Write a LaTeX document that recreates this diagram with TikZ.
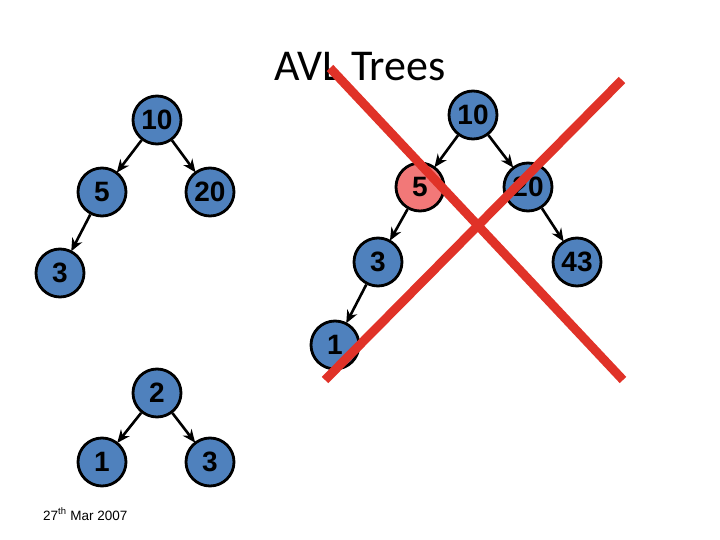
\documentclass[tikz,border=0pt]{standalone}
\usepackage{fontspec}
\setmainfont{Liberation Sans}
\newfontfamily\titlefont{Carlito}
\usetikzlibrary{arrows.meta}
\definecolor{nodeblue}{RGB}{79,129,189}
\definecolor{nodered}{RGB}{242,120,120}
\definecolor{crossred}{RGB}{224,50,40}
\tikzset{
  tnode/.style={circle, draw=black, line width=2.8pt, fill=nodeblue, minimum size=48pt, inner sep=0pt, font=\fontsize{28}{28}\selectfont\bfseries},
  rnode/.style={tnode, fill=nodered},
  edge/.style={-{Stealth[length=13pt,width=11pt]}, line width=2.6pt, shorten >=-1pt},
  cross/.style={crossred, line width=9pt}
}
\begin{document}
\begin{tikzpicture}[x=1pt,y=-1pt]
\useasboundingbox (0,0) rectangle (720,540);
\node[anchor=base, font=\titlefont\fontsize{44}{44}\selectfont] (title) at (360,81) {AVL Trees};
% left tree
\node[tnode] (a10) at (157,120) {10};
\node[tnode] (a5) at (102,192) {5};
\node[tnode] (a20) at (210,192) {20};
\node[tnode] (a3) at (60,273) {3};
\draw[edge] (a10) -- (a5);
\draw[edge] (a10) -- (a20);
\draw[edge] (a5) -- (a3);
% bottom tree
\node[tnode] (b2) at (157,393) {2};
\node[tnode] (b1) at (102,462) {1};
\node[tnode] (b3) at (210,462) {3};
\draw[edge] (b2) -- (b1);
\draw[edge] (b2) -- (b3);
% right tree
\node[tnode] (c10) at (473,115) {10};
\node[rnode] (c5) at (420,187) {5};
\node[tnode] (c20) at (528,187) {20};
\node[tnode] (c3) at (378,262) {3};
\node[tnode] (c43) at (577,262) {43};
\node[tnode] (c1) at (335,345) {1};
\draw[edge] (c10) -- (c5);
\draw[edge] (c10) -- (c20);
\draw[edge] (c5) -- (c3);
\draw[edge] (c20) -- (c43);
\draw[edge] (c3) -- (c1);
% cross
\coordinate (x1) at (330,68);
\coordinate (x2) at (623,380);
\coordinate (x3) at (622,80);
\coordinate (x4) at (325,380);
\draw[cross] (x1) -- (x2);
\draw[cross] (x3) -- (x4);
% date
\node[anchor=base west, inner sep=0pt, font=\fontsize{13.5}{13.5}\selectfont] (date) at (43,520) {27\textsuperscript{th} Mar 2007};
\end{tikzpicture}
\end{document}
